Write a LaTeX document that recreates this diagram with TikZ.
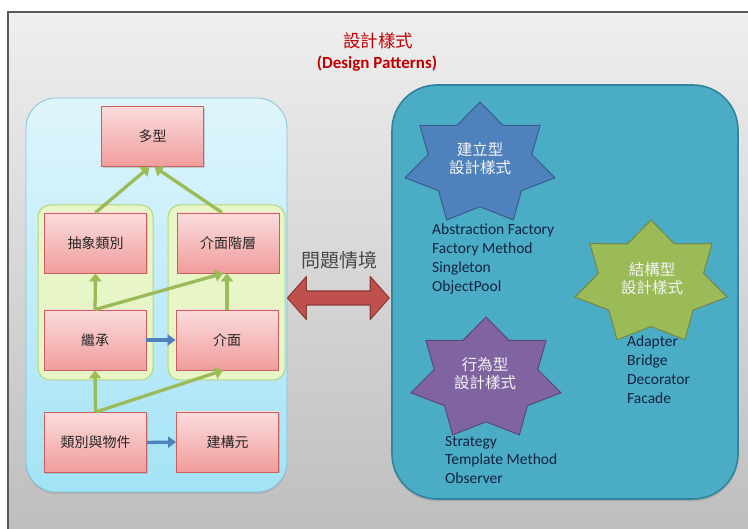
\documentclass[tikz,border=0pt]{standalone}
\usepackage{fontspec}
\setmainfont{Carlito}
\newfontfamily\cjk{Noto Sans CJK TC}
\usetikzlibrary{arrows.meta,calc,shadows}

\definecolor{frametop}{HTML}{EFEFEF}
\definecolor{framebot}{HTML}{BEBEBE}
\definecolor{frameline}{HTML}{5A5A5A}
\definecolor{titlered}{HTML}{C00000}
\definecolor{lptop}{HTML}{DFF5FC}
\definecolor{lpbot}{HTML}{A3E3F6}
\definecolor{lpline}{HTML}{86C3D8}
\definecolor{subfill}{HTML}{E8F5C6}
\definecolor{subline}{HTML}{B3D67E}
\definecolor{pinktop}{HTML}{FBDCDC}
\definecolor{pinkbot}{HTML}{F19C9C}
\definecolor{pinkline}{HTML}{C9605D}
\definecolor{boxtext}{HTML}{262626}
\definecolor{arrgreen}{HTML}{9BBB59}
\definecolor{arrblue}{HTML}{4F81BD}
\definecolor{dblred}{HTML}{C0504D}
\definecolor{dblline}{HTML}{8C3A37}
\definecolor{rpfill}{HTML}{4BACC6}
\definecolor{rpline}{HTML}{31849B}
\definecolor{starblue}{HTML}{4F81BD}
\definecolor{starblueline}{HTML}{385D8A}
\definecolor{stargreen}{HTML}{9BBB59}
\definecolor{stargreenline}{HTML}{71893F}
\definecolor{starpurple}{HTML}{8064A2}
\definecolor{starpurpleline}{HTML}{5C4776}
\definecolor{listtext}{HTML}{12233F}
\definecolor{startxt}{HTML}{F4F4F4}

% seven-pointed star, stretched horizontally: x, y, outer radius, style
\newcommand{\sevenstar}[4]{%
  \begin{scope}[shift={(#1,#2)}, xscale=1.24]
    \draw[#4] (-90:#3) \foreach \k in {1,...,13}{
      -- ({-90+\k*360/14}:{ifthenelse(mod(\k,2)==0,#3,0.69*#3)}) } -- cycle;
  \end{scope}}

\begin{document}
\begin{tikzpicture}[x=1pt,y=-1pt,
  box/.style={draw=pinkline, line width=0.8pt, top color=pinktop, bottom color=pinkbot,
    minimum width=102pt, minimum height=60pt, inner sep=0pt,
    font=\cjk\fontsize{14}{16}\selectfont, text=boxtext,
    drop shadow={opacity=0.3, shadow xshift=1.2pt, shadow yshift=-1.5pt}},
  subpanel/.style={draw=subline, line width=1pt, fill=subfill, rounded corners=12pt},
  garrow/.style={draw=arrgreen, line width=3.3pt, -{Triangle[width=12pt,length=8pt]}},
  barrow/.style={draw=arrblue, line width=3.3pt, -{Triangle[width=11pt,length=8pt]}},
  startext/.style={align=center, text=startxt, font=\cjk\fontsize{15.5}{18}\selectfont, inner sep=0pt},
  listtxt/.style={align=left, anchor=north west, inner sep=0pt, text=listtext,
    font=\fontsize{15.5}{18.7}\selectfont}
]
\useasboundingbox (0,0) rectangle (748,529);
\fill[white] (0,0) rectangle (748,529);

% grey frame
\shade[top color=frametop, bottom color=framebot] (8,12) rectangle (748,529);
\draw[frameline, line width=1.4pt] (8,529) -- (8,12) -- (748,12);

% title
\node[text=titlered, font=\cjk\fontsize{17.5}{20}\selectfont] (title) at (378,41) {設計樣式};
\node[text=titlered, font=\bfseries\fontsize{17}{19}\selectfont] (subtitle) at (377,64) {(Design Patterns)};

% left panel
\node[draw=lpline, line width=0.8pt, top color=lptop, bottom color=lpbot,
  rounded corners=30pt, minimum width=261pt, minimum height=394pt,
  drop shadow={opacity=0.25, shadow xshift=0pt, shadow yshift=-2pt}] (lp) at (156.5,295) {};

\draw[subpanel] (38,205) rectangle (153,380);
\draw[subpanel] (168,205) rectangle (285,380);

% concept boxes
\node[box] (poly)  at (152.5,136.5) {多型};
\node[box] (abs)   at (95.5,243)    {抽象類別};
\node[box] (ih)    at (228,243)     {介面階層};
\node[box] (inh)   at (95,340)      {繼承};
\node[box] (iface) at (227,340)     {介面};
\node[box] (cls)   at (95.5,442.5)  {類別與物件};
\node[box] (ctor)  at (227.5,442)   {建構元};

% relations
\draw[garrow] (abs.north) -- ($(poly.south)+(-3,0)$);
\draw[garrow] ($(ih.north)+(-6,0)$) -- ($(poly.south)+(2,0)$);
\draw[garrow] (inh.north) -- (abs.south);
\draw[garrow] (inh.north) -- ($(ih.south)+(-5,0)$);
\draw[garrow] (iface.north) -- (iface.north |- ih.south);
\draw[garrow] (cls.north) -- (inh.south);
\draw[garrow] (cls.north) -- ($(iface.south)+(-4,0)$);
\draw[barrow] (inh.east) -- (iface.west);
\draw[barrow] (cls.east) -- (ctor.west);

% right panel
\node[draw=rpline, line width=1.6pt, fill=rpfill, rounded corners=45pt,
  minimum width=346pt, minimum height=414pt,
  drop shadow={opacity=0.3, shadow xshift=0pt, shadow yshift=-2.5pt}] (rp) at (565,292) {};

% problem context and double arrow
\node[text=boxtext!85, font=\cjk\fontsize{19}{22}\selectfont] (ctx) at (339,260) {問題情境};
\coordinate (dl) at (lp.east |- 0,298);
\coordinate (dr) at ($(rp.west |- 0,298)+(-2,0)$);
\draw[fill=dblred, draw=dblline, line width=1.1pt, line join=round]
  (dl) -- ++(19,-21.5) -- ++(0,14.5) -- ($(dr)+(-19,-7)$) -- ++(0,-14.5) -- (dr)
  -- ++(-19,21.5) -- ++(0,-14.5) -- ($(dl)+(19,7)$) -- ++(0,14.5) -- cycle;

% pattern families
\sevenstar{480}{164}{62}{fill=starblue, draw=starblueline, line width=1pt}
\node[startext] (cre) at (480,159) {建立型\\設計樣式};
\node[listtxt] (crelist) at (432,224) {Abstraction Factory\\Factory Method\\Singleton\\ObjectPool};

\sevenstar{651}{283}{63}{fill=stargreen, draw=stargreenline, line width=1pt}
\node[startext] (str) at (652,279) {結構型\\設計樣式};
\node[listtxt] (strlist) at (627,336) {Adapter\\Bridge\\Decorator\\Facade};

\sevenstar{486}{379}{62}{fill=starpurple, draw=starpurpleline, line width=1pt}
\node[startext] (beh) at (485,374) {行為型\\設計樣式};
\node[listtxt] (behlist) at (445,436) {Strategy\\Template Method\\Observer};
\end{tikzpicture}
\end{document}
